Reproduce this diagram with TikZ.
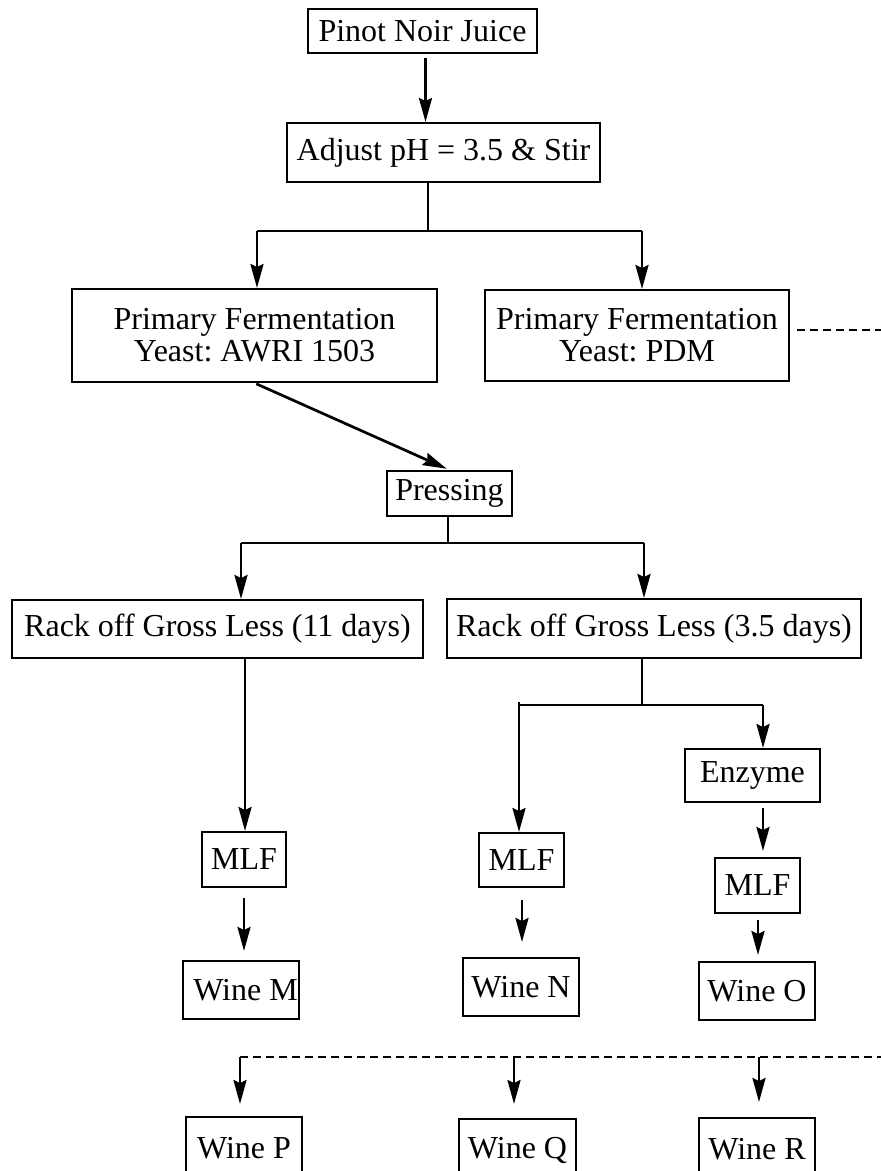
\documentclass[tikz,border=0pt]{standalone}
\usepackage{fontspec}
\setmainfont{Liberation Serif}
\usetikzlibrary{arrows.meta}
\frenchspacing
\begin{document}
\begin{tikzpicture}[x=1pt,y=-1pt,
  box/.style={draw,line width=2pt,inner sep=0pt,align=center,
    font=\fontsize{32}{32}\selectfont},
  conn/.style={line width=2.7pt},
  arr/.style={conn,-{Stealth[length=24pt,width=13pt,inset=3pt]}},
  dashline/.style={line width=2.2pt,dash pattern=on 8pt off 5pt}]
\useasboundingbox (0,0) rectangle (881,1171);
\clip (0,0) rectangle (881,1171);
% nodes
\node[box,minimum width=229pt,minimum height=44pt] (juice) at (422.5,31) {Pinot Noir Juice};
\node[box,minimum width=313pt,minimum height=59pt] (adjust) at (443.5,152.5) {Adjust pH = 3.5 \& Stir};
\node[box,minimum width=365pt,minimum height=93pt] (ferm1) at (254.5,335.5) {Primary Fermentation\\Yeast: AWRI 1503};
\node[box,minimum width=304pt,minimum height=91pt] (ferm2) at (637,335.5) {Primary Fermentation\\Yeast: PDM};
\node[box,minimum width=125pt,minimum height=45pt] (press) at (449.5,493.5) {Pressing};
\node[box,minimum width=411pt,minimum height=58pt] (rack1) at (217.5,629) {Rack off Gross Less (11 days)};
\node[box,minimum width=414pt,minimum height=59pt] (rack2) at (654,628.5) {Rack off Gross Less (3.5 days)};
\node[box,minimum width=84pt,minimum height=55pt] (mlf1) at (244,859.5) {MLF};
\node[box,minimum width=85pt,minimum height=54pt] (mlf2) at (521.5,860) {MLF};
\node[box,minimum width=135pt,minimum height=53pt] (enz) at (752.5,775.5) {Enzyme};
\node[box,minimum width=85pt,minimum height=55pt] (mlf3) at (757.5,885.5) {MLF};
\node[box,minimum width=116pt,minimum height=58pt] (wineM) at (241,990) {\hspace*{9pt}Wine M};
\node[box,minimum width=116pt,minimum height=58pt] (wineN) at (521,987) {Wine N};
\node[box,minimum width=116pt,minimum height=58pt] (wineO) at (757,991) {Wine O};
\node[box,minimum width=116pt,minimum height=63pt] (wineP) at (244,1148.5) {Wine P};
\node[box,minimum width=117pt,minimum height=62pt] (wineQ) at (517.5,1150) {Wine Q};
\node[box,minimum width=116pt,minimum height=63pt] (wineR) at (757,1149.5) {Wine R};
% helper coordinates
\coordinate (a1) at (425.5,0);
\coordinate (fk1) at (428,231);
\coordinate (fk1l) at (257,231);
\coordinate (fk1r) at (642,231);
\coordinate (dr1) at (881,330);
\coordinate (dl1) at (797,330);
\coordinate (fk2) at (448,543);
\coordinate (fk2l) at (241,543);
\coordinate (fk2r) at (644,543);
\coordinate (r1) at (245,0);
\coordinate (fk3) at (642,705);
\coordinate (fk3l) at (519,705);
\coordinate (fk3lt) at (519,702);
\coordinate (fk3r) at (763,705);
\coordinate (cO) at (758,0);
\coordinate (cM) at (244,0);
\coordinate (cN) at (522,0);
\coordinate (dl2) at (240,1057);
\coordinate (dr2) at (881,1057);
\coordinate (dq) at (514,1057);
\coordinate (drr) at (759,1057);
% connectors
\draw[arr,shorten <=4pt] (juice.south -| a1) -- (adjust.north -| a1);
\draw[conn] (adjust.south -| fk1) -- (fk1);
\draw[conn] (fk1l) -- (fk1r);
\draw[arr] (fk1l) -- (ferm1.north -| fk1l);
\draw[arr] (fk1r) -- (ferm2.north -| fk1r);
\draw[dashline] (dl1) -- (dr1);
\draw[arr,shorten <=2pt,shorten >=3pt] (ferm1.south) -- (press.north);
\draw[conn] (press.south -| fk2) -- (fk2);
\draw[conn] (fk2l) -- (fk2r);
\draw[arr] (fk2l) -- (rack1.north -| fk2l);
\draw[arr] (fk2r) -- (rack2.north -| fk2r);
\draw[arr] (rack1.south -| r1) -- (mlf1.north -| r1);
\draw[conn] (rack2.south -| fk3) -- (fk3);
\draw[conn] (fk3l) -- (fk3r);
\draw[arr] (fk3lt) -- (mlf2.north -| fk3l);
\draw[arr] (fk3r) -- (enz.north -| fk3r);
\draw[arr,shorten <=5pt,shorten >=6pt] (enz.south -| fk3r) -- (mlf3.north -| fk3r);
\draw[arr,shorten <=6pt,shorten >=6pt] (mlf3.south -| cO) -- (wineO.north -| cO);
\draw[arr,shorten <=10pt,shorten >=9pt] (mlf1.south -| cM) -- (wineM.north -| cM);
\draw[arr,shorten <=12pt,shorten >=15pt] (mlf2.south -| cN) -- (wineN.north -| cN);
\draw[dashline] (dl2) -- (dr2);
\draw[arr,shorten >=12pt] (dl2) -- (wineP.north -| dl2);
\draw[arr,shorten >=14pt] (dq) -- (wineQ.north -| dq);
\draw[arr,shorten >=15pt] (drr) -- (wineR.north -| drr);
\end{tikzpicture}
\end{document}
